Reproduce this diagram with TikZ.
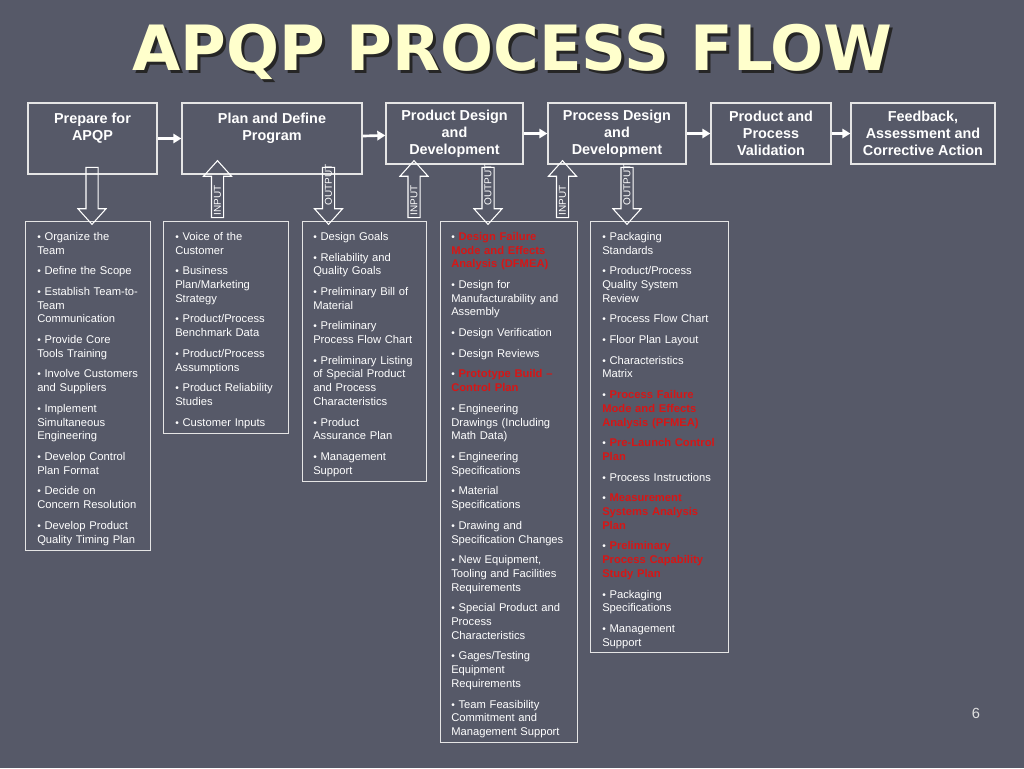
\documentclass[tikz,border=0pt]{standalone}
\usepackage{fontspec}
\setmainfont{Liberation Sans}
\newfontfamily\titlefont{DejaVu Sans}
\usetikzlibrary{arrows.meta,shapes.arrows}
\definecolor{slide}{RGB}{86,89,104}
\definecolor{apqpred}{RGB}{214,22,22}
\definecolor{titleyellow}{RGB}{255,255,204}
\newcommand{\bul}{{\fontsize{7.6}{7.6}\selectfont\textbullet}\ }
\begin{document}
\begin{tikzpicture}[x=0.75pt, y=-0.75pt,
  stage/.style={draw=white!90!black, line width=1pt, text=white, font=\fontsize{10.8}{12.75}\selectfont\bfseries, align=center, inner sep=0pt},
  stagetext/.style={text=white, font=\fontsize{10.8}{12.75}\selectfont\bfseries, align=center, inner sep=0pt, anchor=north},
  listbox/.style={draw=white!90!black, line width=1pt, anchor=north west, inner sep=0pt},
  listtext/.style={text=white, font=\fontsize{8.4}{10.3}\selectfont, text width=94pt, align=left, anchor=north west, inner sep=0pt},
  flowarrow/.style={draw=white, line width=2pt, -{Triangle[length=6pt,width=7pt]}},
  blockarrow/.style={single arrow, draw=white, line width=0.8pt, minimum height=42.75pt, minimum width=20.25pt, single arrow head extend=6pt, single arrow tip angle=84, inner sep=4.125pt},
  arrowtext/.style={text=white, font=\fontsize{7.5}{7.5}\selectfont, rotate=90, inner sep=0pt}]
\useasboundingbox[fill=slide] (0,0) rectangle (1024,768);
\node[text=titleyellow, font=\titlefont\bfseries\fontsize{46.8}{50}\selectfont] (title) at (512.5,53){\rlap{\hspace{2.2pt}\raisebox{-2.2pt}{\textcolor{black!85}{APQP PROCESS FLOW}}}APQP PROCESS FLOW};
\node[stage, minimum width=96.75pt, minimum height=53.25pt] (stage1) at (92.5,138.5){};
\node[stagetext] (stage1text) at (92.5,112.5){Prepare for\\APQP};
\node[stage, minimum width=135pt, minimum height=53.25pt] (stage2) at (272,138.5){};
\node[stagetext] (stage2text) at (272,112.5){Plan and Define\\Program};
\node[stage, minimum width=102.75pt, minimum height=45.75pt] (stage3) at (454.5,133.5){Product Design\\and\\Development};
\node[stage, minimum width=103.5pt, minimum height=45.75pt] (stage4) at (617,133.5){Process Design\\and\\Development};
\node[stage, minimum width=90pt, minimum height=45.75pt] (stage5) at (771,133.5){Product and\\Process\\Validation};
\node[stage, minimum width=108pt, minimum height=45.75pt] (stage6) at (923,133.5){Feedback,\\Assessment and\\Corrective Action};
\draw[flowarrow] (stage1) -- (stage2);
\draw[flowarrow] (stage2) -- (stage3);
\draw[flowarrow] (stage3) -- (stage4);
\draw[flowarrow] (stage4) -- (stage5);
\draw[flowarrow] (stage5) -- (stage6);
\node[listbox, minimum width=93.75pt, minimum height=246.75pt] (list1) at (25,221){};
\node[listbox, minimum width=93.75pt, minimum height=159pt] (list2) at (163,221){};
\node[listbox, minimum width=93pt, minimum height=195pt] (list3) at (302,221){};
\node[listbox, minimum width=102.75pt, minimum height=390.75pt] (list4) at (440,221){};
\node[listbox, minimum width=103.5pt, minimum height=323.25pt] (list5) at (590,221){};
\node[blockarrow, rotate=-90] (arrow1) at (92,192.5){};
\node[blockarrow, rotate=90] (input1) at (217.5,192.5){};
\node[blockarrow, rotate=-90] (output1) at (328.5,192.5){};
\node[blockarrow, rotate=90] (input2) at (414,192.5){};
\node[blockarrow, rotate=-90] (output2) at (488,192.5){};
\node[blockarrow, rotate=90] (input3) at (562.5,192.5){};
\node[blockarrow, rotate=-90] (output3) at (627,192.5){};
\node[arrowtext] (input1text) at (217.5,200){INPUT};
\node[arrowtext] (output1text) at (328.5,185){OUTPUT};
\node[arrowtext] (input2text) at (414,200){INPUT};
\node[arrowtext] (output2text) at (488,185){OUTPUT};
\node[arrowtext] (input3text) at (562.5,200){INPUT};
\node[arrowtext] (output3text) at (627,185){OUTPUT};
\node[listtext] (list1text) at (37,232){\bul Organize the\\Team\\[5.2pt]
\bul Define the Scope\\[5.2pt]
\bul Establish Team-to-\\Team\\Communication\\[5.2pt]
\bul Provide Core\\Tools Training\\[5.2pt]
\bul Involve Customers\\and Suppliers\\[5.2pt]
\bul Implement\\Simultaneous\\Engineering\\[5.2pt]
\bul Develop Control\\Plan Format\\[5.2pt]
\bul Decide on\\Concern Resolution\\[5.2pt]
\bul Develop Product\\Quality Timing Plan};
\node[listtext] (list2text) at (175,232){\bul Voice of the\\Customer\\[5.2pt]
\bul Business\\Plan/Marketing\\Strategy\\[5.2pt]
\bul Product/Process\\Benchmark Data\\[5.2pt]
\bul Product/Process\\Assumptions\\[5.2pt]
\bul Product Reliability\\Studies\\[5.2pt]
\bul Customer Inputs};
\node[listtext] (list3text) at (313,232){\bul Design Goals\\[5.2pt]
\bul Reliability and\\Quality Goals\\[5.2pt]
\bul Preliminary Bill of\\Material\\[5.2pt]
\bul Preliminary\\Process Flow Chart\\[5.2pt]
\bul Preliminary Listing\\of Special Product\\and Process\\Characteristics\\[5.2pt]
\bul Product\\Assurance Plan\\[5.2pt]
\bul Management\\Support};
\node[listtext] (list4text) at (451,232){\bul\textcolor{apqpred}{\bfseries Design Failure\\Mode and Effects\\Analysis (DFMEA)}\\[5.2pt]
\bul Design for\\Manufacturability and\\Assembly\\[5.2pt]
\bul Design Verification\\[5.2pt]
\bul Design Reviews\\[5.2pt]
\bul\textcolor{apqpred}{\bfseries Prototype Build --\\Control Plan}\\[5.2pt]
\bul Engineering\\Drawings (Including\\Math Data)\\[5.2pt]
\bul Engineering\\Specifications\\[5.2pt]
\bul Material\\Specifications\\[5.2pt]
\bul Drawing and\\Specification Changes\\[5.2pt]
\bul New Equipment,\\Tooling and Facilities\\Requirements\\[5.2pt]
\bul Special Product and\\Process\\Characteristics\\[5.2pt]
\bul Gages/Testing\\Equipment\\Requirements\\[5.2pt]
\bul Team Feasibility\\Commitment and\\Management Support};
\node[listtext] (list5text) at (602,232){\bul Packaging\\Standards\\[5.2pt]
\bul Product/Process\\Quality System\\Review\\[5.2pt]
\bul Process Flow Chart\\[5.2pt]
\bul Floor Plan Layout\\[5.2pt]
\bul Characteristics\\Matrix\\[5.2pt]
\bul\textcolor{apqpred}{\bfseries Process Failure\\Mode and Effects\\Analysis (PFMEA)}\\[5.2pt]
\bul\textcolor{apqpred}{\bfseries Pre-Launch Control\\Plan}\\[5.2pt]
\bul Process Instructions\\[5.2pt]
\bul\textcolor{apqpred}{\bfseries Measurement\\Systems Analysis\\Plan}\\[5.2pt]
\bul\textcolor{apqpred}{\bfseries Preliminary\\Process Capability\\Study Plan}\\[5.2pt]
\bul Packaging\\Specifications\\[5.2pt]
\bul Management\\Support};
\node[text=white!88!black, font=\fontsize{11}{11}\selectfont] (pagenum) at (976,713){6};
\end{tikzpicture}
\end{document}
